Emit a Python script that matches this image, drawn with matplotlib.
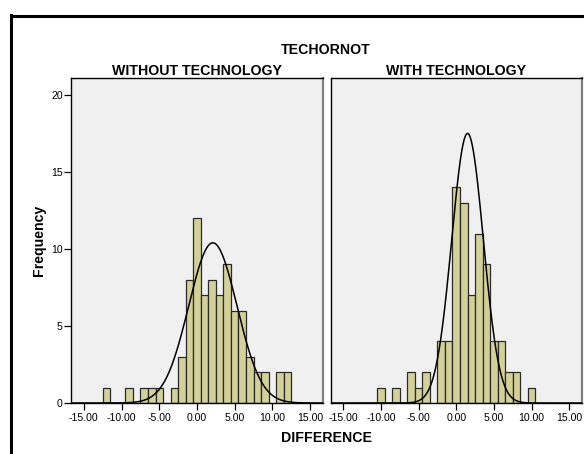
import numpy as np
import matplotlib

matplotlib.use("Agg")
import matplotlib.pyplot as plt
from matplotlib.lines import Line2D

plt.rcParams["font.family"] = ["Liberation Sans", "DejaVu Sans"]

# histogram bins (bin centres, width 1) and counts
without_centres = [-12, -9, -7, -6, -5, -3, -2, -1, 0, 1, 2, 3, 4, 5, 6, 7, 8, 9, 11, 12]
without_counts = [1, 1, 1, 1, 1, 1, 3, 8, 12, 7, 8, 7, 9, 6, 6, 3, 2, 2, 2, 2]

with_centres = [-10, -8, -6, -5, -4, -2, -1, 0, 1, 2, 3, 4, 5, 6, 7, 8, 10]
with_counts = [1, 1, 2, 1, 2, 4, 4, 14, 13, 7, 11, 9, 4, 4, 2, 2, 1]

# normal curves: mean, sd, peak height
without_curve = (2.1, 3.2, 10.4)
with_curve = (1.5, 2.1, 17.5)

panel_titles = ["WITHOUT TECHNOLOGY", "WITH TECHNOLOGY"]
xticks = [-15, -10, -5, 0, 5, 10, 15]
yticks = [0, 5, 10, 15, 20]

BAR = "#d4d09a"
BG = "#f0f0f0"
W, H = 584, 454

fig = plt.figure(figsize=(W / 100, H / 100), dpi=100)


def px_axes(x0, y0, x1, y1):
    return fig.add_axes([x0 / W, 1 - y1 / H, (x1 - x0) / W, (y1 - y0) / H])


ax_l = px_axes(71, 78, 323, 403)
ax_r = px_axes(330.5, 78, 582, 403)

panels = [
    (ax_l, without_centres, without_counts, without_curve),
    (ax_r, with_centres, with_counts, with_curve),
]

for i, (ax, centres, counts, curve) in enumerate(panels):
    ax.set_facecolor(BG)
    ax.bar(centres, counts, width=1.0, color=BAR, edgecolor="#2a2a2a", lw=0.9, zorder=2)
    mu, sd, peak = curve
    xs = np.linspace(-16.7, 16.7, 600)
    ax.plot(xs, peak * np.exp(-0.5 * ((xs - mu) / sd) ** 2), color="black", lw=1.1, zorder=3)

    ax.set_xlim(-16.7, 16.7)
    ax.set_ylim(0, 21.1)
    ax.set_xticks(xticks)
    ax.set_xticklabels([f"{t:.2f}" for t in xticks], fontsize=7.6)
    ax.tick_params(axis="x", direction="out", length=5, width=0.9, pad=2)
    if i == 0:
        ax.set_yticks(yticks)
        ax.set_yticklabels([str(t) for t in yticks], fontsize=7.6)
        ax.tick_params(axis="y", direction="out", length=5, width=0.9, pad=1)
    else:
        ax.set_yticks([])

    for side in ("left", "bottom", "top"):
        ax.spines[side].set_color("black")
        ax.spines[side].set_linewidth(1.0)
    ax.spines["right"].set_color("#808080")
    ax.spines["right"].set_linewidth(1.6)

    ax.set_title(panel_titles[i], fontsize=10.2, fontweight="bold", pad=1.5)

fig.text(326 / W, 1 - 50 / H, "TECHORNOT", ha="center", va="center",
         fontsize=10.2, fontweight="bold")
fig.text(327 / W, 1 - 438 / H, "DIFFERENCE", ha="center", va="center",
         fontsize=10.2, fontweight="bold")
fig.text(39 / W, 1 - 240 / H, "Frequency", ha="center", va="center",
         rotation=90, fontsize=10.2, fontweight="bold")

# outer frame (only left and top edges fall inside the image)
fig.add_artist(Line2D([11 / W, 11 / W], [1 - 15 / H, -0.1], color="black", lw=2.2,
                      transform=fig.transFigure))
fig.add_artist(Line2D([11 / W, 1.1], [1 - 15.5 / H, 1 - 15.5 / H], color="black", lw=2.2,
                      transform=fig.transFigure))

fig.savefig("out.png", dpi=100)
